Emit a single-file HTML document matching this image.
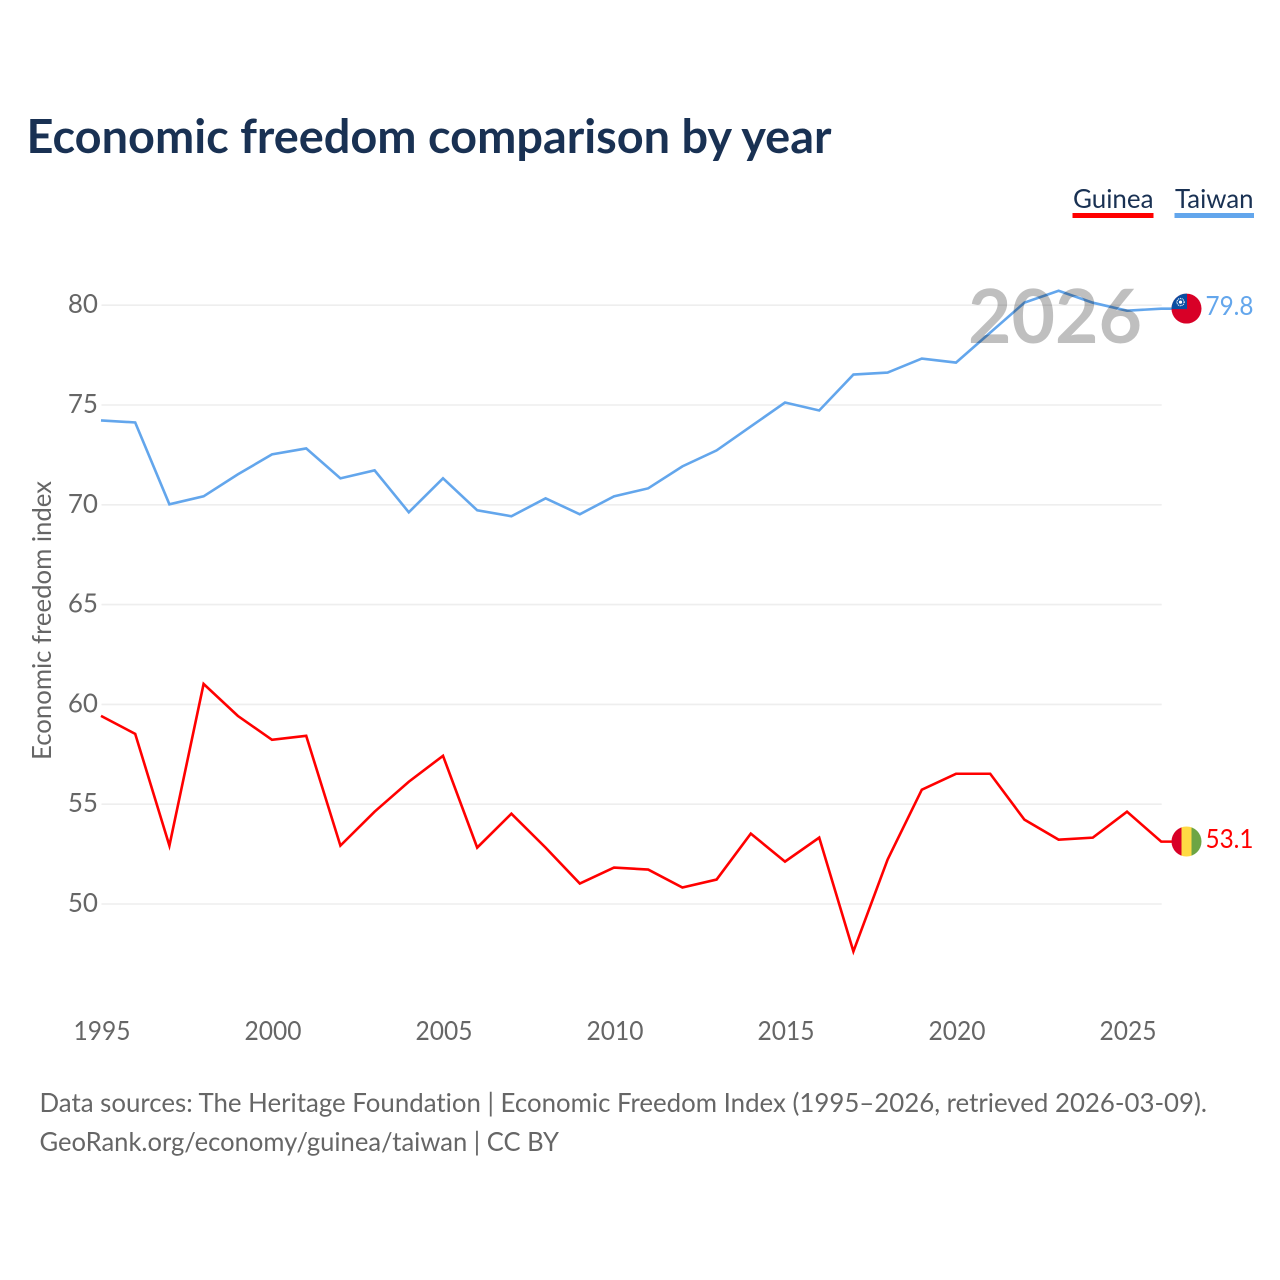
<!DOCTYPE html>
<html lang="en">
<head>
<meta charset="utf-8">
<title>Economic freedom comparison by year</title>
<style>
html,body{margin:0;padding:0;background:#fff}
svg{display:block}
text{font-family:"Lato","Carlito","Liberation Sans",sans-serif;font-variant-ligatures:none}
</style>
</head>
<body>
<svg id="chart" xmlns="http://www.w3.org/2000/svg" width="1280" height="1280" viewBox="0 0 1280 1280">
  <defs>
    <clipPath id="flag-clip-circle"><circle cx="0" cy="0" r="15"/></clipPath>
  </defs>
  <rect x="0" y="0" width="1280" height="1280" fill="#ffffff"/>
  <text x="26.5" y="153" font-size="47" font-weight="700" fill="#193153" textLength="805" lengthAdjust="spacingAndGlyphs">Economic freedom comparison by year</text>

  <g>
    <text x="1073" y="208" font-size="26" fill="#193153" textLength="80.5" lengthAdjust="spacingAndGlyphs">Guinea</text>
    <rect x="1072.5" y="213" width="81" height="5" fill="#ff0000"/>
    <text x="1175" y="208" font-size="26" fill="#193153" textLength="78.5" lengthAdjust="spacingAndGlyphs">Taiwan</text>
    <rect x="1174.5" y="213" width="79.5" height="5" fill="#63a6ec"/>
  </g>

  <g id="grid"></g>
  <g id="y-ticks"></g>
  <g id="x-ticks"></g>
  <text transform="translate(51,620.5) rotate(-90)" text-anchor="middle" font-size="26" fill="#666666" textLength="279" lengthAdjust="spacingAndGlyphs">Economic freedom index</text>

  <g id="series"></g>

  <text x="1055" y="343" text-anchor="middle" font-size="75" font-weight="700" fill="#000000" fill-opacity="0.25">2026</text>

  <g id="flag-taiwan" clip-path="url(#flag-clip-circle)">
    <rect x="-15" y="-15" width="30" height="30" fill="#d80027"/>
    <rect x="-15" y="-15" width="15.5" height="15.5" fill="#0a4ea2"/>
    <circle cx="-6" cy="-6.5" r="3.6" fill="none" stroke="#ffffff" stroke-width="1.2" stroke-dasharray="1 0.8"/>
    <circle cx="-6" cy="-6.5" r="1.6" fill="#ffffff"/>
  </g>
  <g id="flag-guinea" clip-path="url(#flag-clip-circle)">
    <rect x="-15" y="-15" width="10" height="30" fill="#d80027"/>
    <rect x="-5" y="-15" width="10" height="30" fill="#ffda44"/>
    <rect x="5" y="-15" width="10" height="30" fill="#6da544"/>
  </g>
  <text id="value-taiwan" x="1205.5" font-size="26" fill="#63a6ec" textLength="48" lengthAdjust="spacingAndGlyphs"></text>
  <text id="value-guinea" x="1205.5" font-size="26" fill="#ff0000" textLength="48" lengthAdjust="spacingAndGlyphs"></text>

  <text x="39.5" y="1112" font-size="26" fill="#666666" textLength="1167.5" lengthAdjust="spacingAndGlyphs">Data sources: The Heritage Foundation | Economic Freedom Index (1995–2026, retrieved 2026-03-09).</text>
  <text x="39.5" y="1151" font-size="26" fill="#666666" textLength="519.5" lengthAdjust="spacingAndGlyphs">GeoRank.org/economy/guinea/taiwan | CC BY</text>
</svg>

<script>
const years = [1995,1996,1997,1998,1999,2000,2001,2002,2003,2004,2005,2006,2007,2008,2009,2010,2011,2012,2013,2014,2015,2016,2017,2018,2019,2020,2021,2022,2023,2024,2025,2026];
const taiwanValues = [74.2,74.1,70.0,70.4,71.5,72.5,72.8,71.3,71.7,69.6,71.3,69.7,69.4,70.3,69.5,70.4,70.8,71.9,72.7,73.9,75.1,74.7,76.5,76.6,77.3,77.1,78.6,80.1,80.7,80.1,79.7,79.8];
const guineaValues = [59.4,58.5,52.9,61.0,59.4,58.2,58.4,52.9,54.6,56.1,57.4,52.8,54.5,52.8,51.0,51.8,51.7,50.8,51.2,53.5,52.1,53.3,47.6,52.2,55.7,56.5,56.5,54.2,53.2,53.3,54.6,53.1];
const yTickValues = [50,55,60,65,70,75,80];
const xTickValues = [1995,2000,2005,2010,2015,2020,2025];

const SVGNS = 'http://www.w3.org/2000/svg';
const xScale = function (year) { return 101.5 + (year - 1995) * 34.2; };
const yScale = function (value) { return 904 - (value - 50) * 19.96; };
const END_X = 1172;
const LINE_DX = -0.5;
const LINE_DY = -0.5;

const grid = document.getElementById('grid');
const yTicks = document.getElementById('y-ticks');
yTickValues.forEach(function (v) {
  const line = document.createElementNS(SVGNS, 'line');
  
  
  line.setAttribute('x1', xScale(1995));
  line.setAttribute('x2', xScale(2026));
  line.setAttribute('y1', yScale(v));
  line.setAttribute('y2', yScale(v));
  line.setAttribute('stroke', '#eeeeee');
  line.setAttribute('stroke-width', '1.6');
  grid.appendChild(line);

  const label = document.createElementNS(SVGNS, 'text');
  
  
  label.setAttribute('x', '98');
  label.setAttribute('y', yScale(v) + 8);
  label.setAttribute('text-anchor', 'end');
  label.setAttribute('font-size', '26');
  label.setAttribute('fill', '#666666');
  label.textContent = String(v);
  yTicks.appendChild(label);
});

const xTicks = document.getElementById('x-ticks');
xTickValues.forEach(function (y) {
  const label = document.createElementNS(SVGNS, 'text');
  
  
  label.setAttribute('x', xScale(y) - 28);
  label.setAttribute('y', '1040');
  label.setAttribute('font-size', '26');
  label.setAttribute('fill', '#666666');
  label.setAttribute('textLength', '57');
  label.setAttribute('lengthAdjust', 'spacingAndGlyphs');
  label.textContent = String(y);
  xTicks.appendChild(label);
});

const seriesGroup = document.getElementById('series');
function drawSeries(values, color, seriesName) {
  const pts = values.map(function (v, i) { return (xScale(years[i]) + LINE_DX).toFixed(2) + ',' + (yScale(v) + LINE_DY).toFixed(2); });
  const lastValue = values[values.length - 1];
  pts.push(END_X + ',' + (yScale(lastValue) - 0.5).toFixed(2));
  const line = document.createElementNS(SVGNS, 'polyline');
  
  
  line.setAttribute('points', pts.join(' '));
  line.setAttribute('fill', 'none');
  line.setAttribute('stroke', color);
  line.setAttribute('stroke-width', '2.6');
  line.setAttribute('stroke-linejoin', 'miter');
  seriesGroup.appendChild(line);
}
drawSeries(taiwanValues, '#63a6ec', 'taiwan');
drawSeries(guineaValues, '#ff0000', 'guinea');

function placeEnd(values, flagId, labelId) {
  const last = values[values.length - 1];
  const y = yScale(last);
  document.getElementById(flagId).setAttribute('transform', 'translate(1186.5,' + (y - 0.6).toFixed(2) + ')');
  const label = document.getElementById(labelId);
  label.setAttribute('y', (y + 6).toFixed(2));
  label.textContent = last.toFixed(1);
}
placeEnd(taiwanValues, 'flag-taiwan', 'value-taiwan');
placeEnd(guineaValues, 'flag-guinea', 'value-guinea');
</script>
</body>
</html>
